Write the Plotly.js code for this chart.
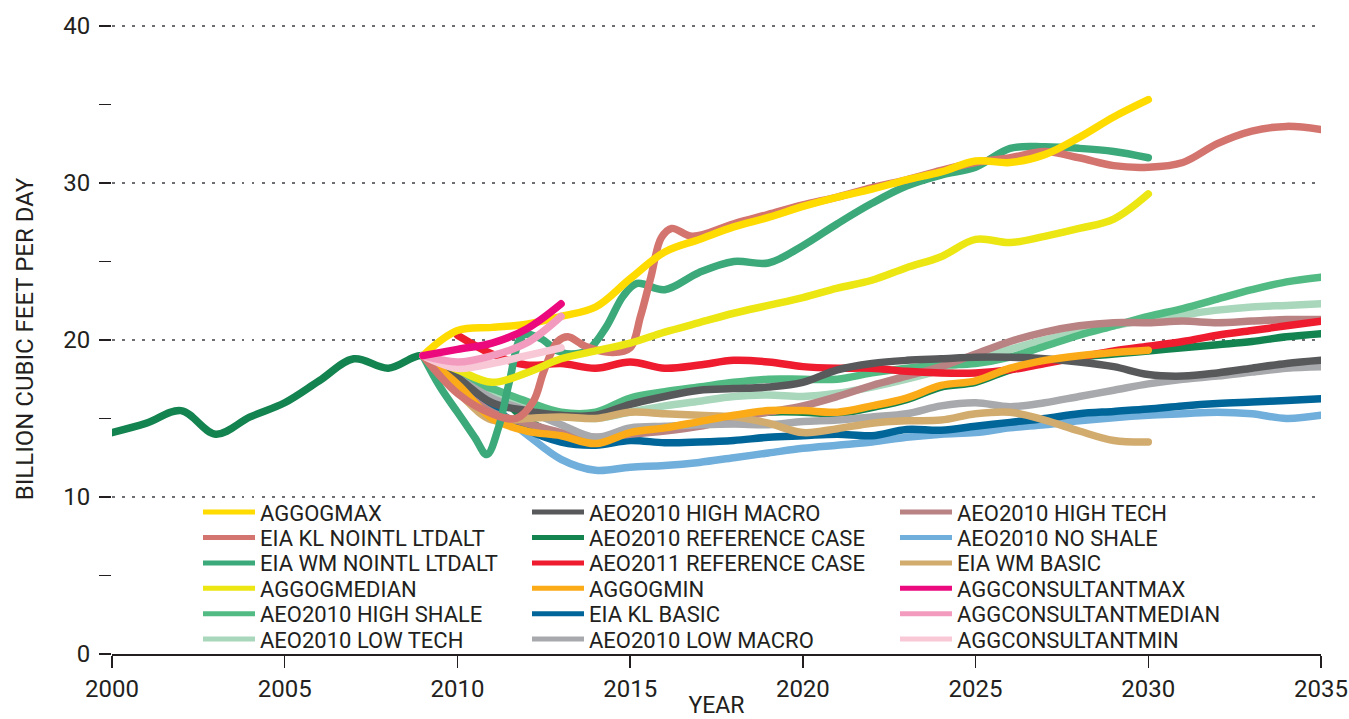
<!DOCTYPE html>
<html>
<head>
<meta charset="utf-8">
<script src="https://cdn.plot.ly/plotly-3.0.1.min.js"></script>
<style>
html,body{margin:0;padding:0;background:#ffffff;}
#chart{width:1349px;height:719px;}
</style>
</head>
<body>
<div id="chart"></div>
<script>
// ---------- DATA (billion cubic feet per day) ----------
const yearsRef = [2000,2001,2002,2003,2004,2005,2006,2007,2008,2009,2010,2011,2012,2013,2014,2015,2016,2017,2018,2019,2020,2021,2022,2023,2024,2025,2026,2027,2028,2029,2030,2031,2032,2033,2034,2035];
const years0935 = [2009,2010,2011,2012,2013,2014,2015,2016,2017,2018,2019,2020,2021,2022,2023,2024,2025,2026,2027,2028,2029,2030,2031,2032,2033,2034,2035];
const years0930 = [2009,2010,2011,2012,2013,2014,2015,2016,2017,2018,2019,2020,2021,2022,2023,2024,2025,2026,2027,2028,2029,2030];
const years1035 = [2010,2011,2012,2013,2014,2015,2016,2017,2018,2019,2020,2021,2022,2023,2024,2025,2026,2027,2028,2029,2030,2031,2032,2033,2034,2035];
const years0913 = [2009,2010,2011,2012,2013];
const yearsKlNointl = [2009,2010,2011,2011.7,2012.2,2012.5,2012.9,2013.2,2013.7,2014.5,2015,2015.3,2015.6,2015.9,2016.2,2016.8,2018,2019,2020,2021,2022,2023,2024,2025,2026,2027,2028,2029,2030,2031,2032,2033,2034,2035];
const yearsWmNointl = [2009,2009.5,2010,2010.5,2010.85,2011.2,2011.5,2011.9,2012.4,2012.9,2013.3,2013.8,2014.3,2014.8,2015.2,2016,2017,2018,2019,2020,2021,2022,2023,2024,2025,2026,2027,2028,2029,2030];

const aeo2010Reference = [14.1,14.7,15.5,14.0,15.1,16.0,17.4,18.8,18.2,19.0,17.6,16.8,14.9,13.9,13.5,14.0,14.3,14.7,15.1,15.4,15.4,15.3,15.7,16.2,17.0,17.3,18.1,18.6,18.9,19.1,19.3,19.5,19.7,19.9,20.2,20.4];
const aggogMax = [19.0,20.6,20.8,21.0,21.5,22.1,23.9,25.6,26.4,27.2,27.8,28.5,29.1,29.6,30.2,30.7,31.4,31.3,31.8,32.9,34.2,35.3];
const eiaKlNointl = [19.0,16.6,15.3,15.0,16.1,18.0,19.9,20.2,19.6,19.2,19.5,21.5,24.0,26.5,27.1,26.6,27.4,28.0,28.6,29.1,29.7,30.2,30.8,31.3,31.6,32.0,31.6,31.1,31.0,31.3,32.5,33.3,33.6,33.4];
const eiaWmNointl = [19.0,17.0,15.4,13.8,12.7,14.5,17.3,20.3,20.1,19.3,19.1,19.4,20.8,22.8,23.6,23.2,24.3,25.0,24.9,26.0,27.4,28.7,29.8,30.5,31.0,32.2,32.3,32.2,32.0,31.6];
const aggogMedian = [19.0,18.1,17.3,17.9,18.8,19.3,19.8,20.5,21.1,21.7,22.2,22.7,23.3,23.8,24.6,25.3,26.4,26.2,26.6,27.1,27.7,29.3];
const aeo2010HighShale = [19.0,17.6,16.9,16.1,15.4,15.4,16.3,16.7,17.0,17.3,17.5,17.5,17.5,17.9,18.2,18.4,18.5,18.9,19.6,20.3,20.9,21.5,22.0,22.6,23.2,23.7,24.0];
const aeo2010LowTech = [19.0,17.5,16.5,15.8,15.2,15.0,15.4,15.8,16.1,16.4,16.5,16.4,16.6,17.0,17.5,18.1,18.8,19.4,20.0,20.5,20.9,21.3,21.6,21.9,22.1,22.2,22.3];
const aeo2010HighMacro = [19.0,17.6,16.0,15.5,15.2,15.2,15.9,16.4,16.8,16.9,17.0,17.3,18.1,18.5,18.7,18.8,18.9,18.9,18.8,18.6,18.3,17.8,17.7,17.9,18.2,18.5,18.7];
const aeo2011Reference = [20.3,19.1,18.4,18.5,18.2,18.6,18.2,18.4,18.7,18.6,18.3,18.2,18.2,18.0,17.9,17.9,18.1,18.5,18.9,19.3,19.6,19.9,20.3,20.6,20.9,21.2];
const aggogMin = [19.0,17.2,15.0,14.2,13.9,13.4,14.1,14.4,14.8,15.2,15.5,15.5,15.4,15.8,16.3,17.1,17.4,18.2,18.7,19.0,19.2,19.35];
const eiaKlBasic = [19.0,17.3,15.7,14.3,13.5,13.3,13.6,13.45,13.5,13.6,13.8,13.9,14.0,13.9,14.3,14.25,14.5,14.75,15.0,15.3,15.45,15.6,15.8,15.95,16.05,16.15,16.25];
const aeo2010LowMacro = [19.0,17.6,16.3,15.5,14.6,13.8,14.4,14.5,14.6,14.65,14.6,14.8,14.9,15.1,15.3,15.8,16.0,15.75,16.0,16.4,16.8,17.2,17.5,17.7,17.95,18.2,18.3];
const aeo2010HighTech = [19.0,17.0,15.4,14.7,14.1,13.8,14.0,14.2,14.5,15.0,15.4,15.8,16.4,17.1,17.7,18.3,19.1,19.9,20.5,20.9,21.1,21.1,21.2,21.1,21.2,21.3,21.3];
const aeo2010NoShale = [19.0,17.6,15.7,14.0,12.4,11.7,11.9,12.0,12.2,12.5,12.8,13.1,13.3,13.5,13.8,14.0,14.1,14.4,14.6,14.85,15.05,15.2,15.3,15.4,15.3,15.0,15.2];
const eiaWmBasic = [19.0,16.7,14.9,15.0,15.1,15.0,15.4,15.3,15.2,15.1,14.7,14.1,14.35,14.7,14.85,14.9,15.3,15.4,14.9,14.2,13.6,13.5];
const aggConsultantMax = [19.0,19.4,19.8,20.7,22.3];
const aggConsultantMedian = [19.0,18.6,19.0,19.8,21.5];
const aggConsultantMin = [19.0,18.2,18.5,19.0,19.5];

// legend labels, in legend reading order (column by column)
const legendNames = [
  'AGGOGMAX','EIA KL NOINTL LTDALT','EIA WM NOINTL LTDALT','AGGOGMEDIAN','AEO2010 HIGH SHALE','AEO2010 LOW TECH',
  'AEO2010 HIGH MACRO','AEO2010 REFERENCE CASE','AEO2011 REFERENCE CASE','AGGOGMIN','EIA KL BASIC','AEO2010 LOW MACRO',
  'AEO2010 HIGH TECH','AEO2010 NO SHALE','EIA WM BASIC','AGGCONSULTANTMAX','AGGCONSULTANTMEDIAN','AGGCONSULTANTMIN'
];

// ---------- STYLE ----------
const seriesList = [ // drawn bottom to top
  {name:'AEO2010 REFERENCE CASE', x:yearsRef, y:aeo2010Reference, color:'#13834f'},
  {name:'AEO2010 NO SHALE', x:years0935, y:aeo2010NoShale, color:'#70aedb'},
  {name:'EIA KL BASIC', x:years0935, y:eiaKlBasic, color:'#006699'},
  {name:'AEO2010 LOW TECH', x:years0935, y:aeo2010LowTech, color:'#a8d7bb'},
  {name:'AEO2010 HIGH SHALE', x:years0935, y:aeo2010HighShale, color:'#52bb84'},
  {name:'AEO2010 HIGH TECH', x:years0935, y:aeo2010HighTech, color:'#b98283'},
  {name:'AEO2010 LOW MACRO', x:years0935, y:aeo2010LowMacro, color:'#a7a9ac'},
  {name:'AEO2011 REFERENCE CASE', x:years1035, y:aeo2011Reference, color:'#ee1c2e'},
  {name:'AEO2010 HIGH MACRO', x:years0935, y:aeo2010HighMacro, color:'#58595b'},
  {name:'EIA WM BASIC', x:years0930, y:eiaWmBasic, color:'#d2ac6e'},
  {name:'AGGOGMIN', x:years0930, y:aggogMin, color:'#fbab18'},
  {name:'EIA WM NOINTL LTDALT', x:yearsWmNointl, y:eiaWmNointl, color:'#3ba97a'},
  {name:'EIA KL NOINTL LTDALT', x:yearsKlNointl, y:eiaKlNointl, color:'#d4746f'},
  {name:'AGGOGMEDIAN', x:years0930, y:aggogMedian, color:'#ece612'},
  {name:'AGGOGMAX', x:years0930, y:aggogMax, color:'#ffdb00'},
  {name:'AGGCONSULTANTMIN', x:years0913, y:aggConsultantMin, color:'#f9c8d7'},
  {name:'AGGCONSULTANTMEDIAN', x:years0913, y:aggConsultantMedian, color:'#f39bbf'},
  {name:'AGGCONSULTANTMAX', x:years0913, y:aggConsultantMax, color:'#ec087d'}
];

const FONT = 'Roboto, "Noto Sans", sans-serif';
const TXT = '#231f20';
const L = 112, R = 28, T = 24, B = 65, W = 1349, H = 719;
const PW = W - L - R, PH = H - T - B;
const colPx = [203, 532, 900];
const rowPx0 = 512.3, rowStep = 25.4;

const traces = seriesList.map(s => {
  const slot = legendNames.indexOf(s.name);
  return {
    type:'scatter', mode:'lines', name:s.name, x:s.x, y:s.y,
    line:{color:s.color, width:7.5, shape:'spline', smoothing:1},
    legend: slot === 0 ? 'legend' : 'legend' + (slot + 1),
    hoverinfo:'skip'
  };
});

const layout = {
  width:W, height:H,
  margin:{l:L, r:R, t:T, b:B, pad:0},
  paper_bgcolor:'#ffffff', plot_bgcolor:'#ffffff',
  font:{family:FONT, color:TXT, size:22},
  showlegend:true,
  xaxis:{
    range:[2000,2035], tick0:2000, dtick:5, ticks:'outside', ticklen:12, tickwidth:1.5, tickcolor:TXT,
    showline:true, linecolor:TXT, linewidth:2, showgrid:false, zeroline:false,
    tickfont:{family:FONT, size:24, color:TXT}, automargin:false,
    title:{text:'YEAR', font:{family:FONT, size:23, color:TXT}, standoff:7}
  },
  yaxis:{
    range:[0,40.12], tick0:0, dtick:10, ticks:'outside', ticklen:12, tickwidth:1.5, tickcolor:TXT,
    showline:false, zeroline:false, showgrid:true, gridcolor:'#6d6e71', gridwidth:2.5, griddash:'2.5px,7.5px',
    minor:{dtick:5, ticks:'outside', ticklen:12, tickwidth:1.5, tickcolor:TXT, showgrid:false},
    tickfont:{family:FONT, size:24, color:TXT}, ticklabelstandoff:4, automargin:false,
    title:{text:'BILLION CUBIC FEET PER DAY', font:{family:FONT, size:24, color:TXT}, standoff:22}
  }
};

legendNames.forEach((nm, i) => {
  const c = Math.floor(i / 6), r = i % 6;
  const key = i === 0 ? 'legend' : 'legend' + (i + 1);
  layout[key] = {
    x:(colPx[c] - 5 - L) / PW, xanchor:'left',
    y:(H - B - (rowPx0 + r * rowStep)) / PH, yanchor:'middle',
    bgcolor:'rgba(0,0,0,0)', borderwidth:0,
    font:{family:FONT, size:22, color:TXT},
    itemwidth:52, itemsizing:'constant', itemclick:false, itemdoubleclick:false
  };
});

function roundCaps(){
  document.querySelectorAll('#chart .scatterlayer path.js-line').forEach(p => {
    p.style.strokeLinecap = 'round';
    p.style.strokeLinejoin = 'round';
  });
}
const gd = document.getElementById('chart');
Plotly.newPlot(gd, traces, layout, {displayModeBar:false, staticPlot:true}).then(() => {
  roundCaps();
  gd.on && gd.on('plotly_afterplot', roundCaps);
});
</script>
</body>
</html>
